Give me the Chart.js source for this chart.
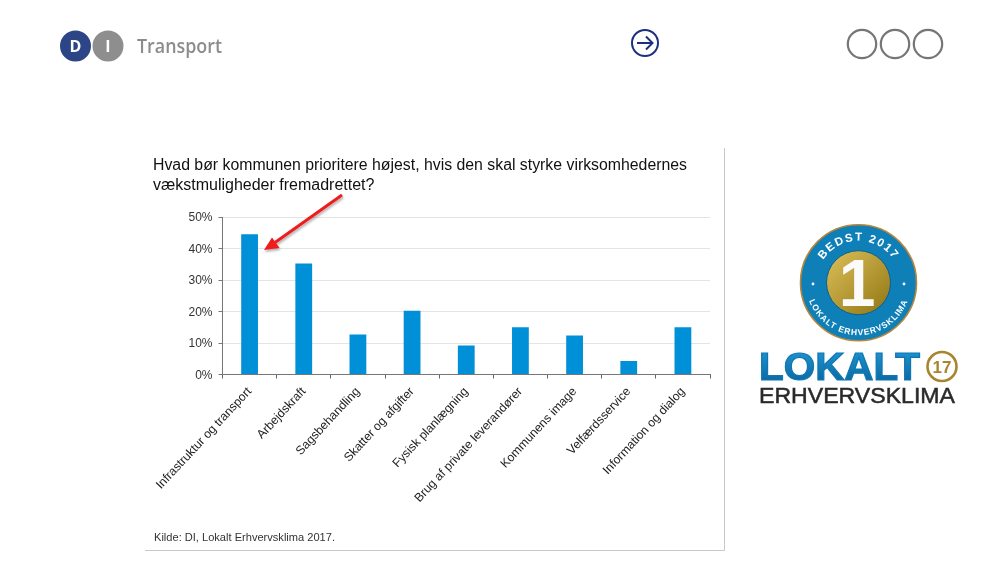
<!DOCTYPE html>
<html>
<head>
<meta charset="utf-8">
<title>Transport</title>
<script src="https://cdn.jsdelivr.net/npm/chart.js@4"></script>
<style>
  html, body { margin: 0; padding: 0; background: #fff; }
  #page { position: relative; width: 1000px; height: 563px; overflow: hidden; }
  #page canvas, #page svg { position: absolute; left: 0; top: 0; }
</style>
</head>
<body>
<div id="page">
  <canvas id="chart" width="1000" height="563"></canvas>
  <svg width="1000" height="563" viewBox="0 0 1000 563">
    <defs>
      <linearGradient id="gold" x1="0" y1="0" x2="1" y2="1">
        <stop offset="0" stop-color="#dcc15a"/>
        <stop offset="1" stop-color="#8f7412"/>
      </linearGradient>
      <linearGradient id="lokalt" x1="0" y1="0" x2="0" y2="1">
        <stop offset="0" stop-color="#1f9ad6"/>
        <stop offset="1" stop-color="#0a5f97"/>
      </linearGradient>
      <filter id="shadow" x="-20%" y="-20%" width="140%" height="140%">
        <feDropShadow dx="1" dy="2" stdDeviation="1.2" flood-color="#000" flood-opacity="0.3"/>
      </filter>
      <path id="ringTop" d="M 816.5 282.7 A 42 42 0 0 1 900.5 282.7"/>
      <path id="ringBottom" d="M 806 282.7 A 52.5 52.5 0 0 0 911 282.7"/>
    </defs>

    <!-- header -->
    <circle cx="75.5" cy="46" r="15.5" fill="#2b4586"/>
    <circle cx="108" cy="46" r="15.5" fill="#8e8e8e"/>
    <text x="75.5" y="52" text-anchor="middle" font-family="Open Sans" font-weight="700" font-size="16" fill="#fff">D</text>
    <text x="108" y="52" text-anchor="middle" font-family="Open Sans" font-weight="700" font-size="16" fill="#fff">I</text>
    <text x="137" y="53" font-family="Open Sans" font-weight="600" font-size="19.5" fill="#8c8c8c" textLength="85" lengthAdjust="spacingAndGlyphs">Transport</text>

    <g fill="none" stroke="#1c2f80" stroke-width="2">
      <circle cx="645" cy="43" r="13"/>
      <path d="M 637 43 H 652 M 646 36.5 L 652.5 43 L 646 49.5"/>
    </g>
    <g fill="none" stroke="#767676" stroke-width="2.2">
      <circle cx="862" cy="44" r="14.2"/>
      <circle cx="895" cy="44" r="14.2"/>
      <circle cx="928" cy="44" r="14.2"/>
    </g>

    <!-- chart panel -->
    <path d="M 724.5 148 V 550.5 H 145" fill="none" stroke="#c8c8c8" stroke-width="1"/>
    <g font-family="Liberation Sans" font-size="16" fill="#111">
      <text x="153" y="170" textLength="534" lengthAdjust="spacingAndGlyphs">Hvad bør kommunen prioritere højest, hvis den skal styrke virksomhedernes</text>
      <text x="153" y="190">vækstmuligheder fremadrettet?</text>
    </g>
    <text x="154" y="541" font-family="Liberation Sans" font-size="11" fill="#333" textLength="181" lengthAdjust="spacingAndGlyphs">Kilde: DI, Lokalt Erhvervsklima 2017.</text>

    <!-- red arrow -->
    <g filter="url(#shadow)">
      <path d="M 342 195 L 275 242.5" stroke="#ee1c1c" stroke-width="3" fill="none"/>
      <path d="M 264 250 L 272 237.5 L 279.5 248 Z" fill="#ee1c1c"/>
    </g>

    <!-- logo -->
    <circle cx="858.5" cy="282.7" r="58" fill="#0f7fb8" stroke="#b9853a" stroke-width="1.6"/>
    <circle cx="858.5" cy="282.7" r="32" fill="url(#gold)" stroke="#0b5f8d" stroke-width="1"/>
    <text font-family="Liberation Sans" font-weight="700" font-size="11.5" fill="#fff" letter-spacing="1.6">
      <textPath href="#ringTop" startOffset="50%" text-anchor="middle">BEDST 2017</textPath>
    </text>
    <text font-family="Liberation Sans" font-weight="700" font-size="8.5" fill="#fff" letter-spacing="0.9">
      <textPath href="#ringBottom" startOffset="50%" text-anchor="middle">LOKALT ERHVERVSKLIMA</textPath>
    </text>
    <circle cx="813" cy="284" r="1.4" fill="#fff"/>
    <circle cx="904" cy="284" r="1.4" fill="#fff"/>
    <text x="857" y="306" text-anchor="middle" font-family="Liberation Sans" font-weight="700" font-size="66" fill="#fbfbfb">1</text>

    <text x="759" y="380" font-family="Liberation Sans" font-weight="700" font-size="38" fill="url(#lokalt)" stroke="#0f78b4" stroke-width="1.2" textLength="161" lengthAdjust="spacingAndGlyphs">LOKALT</text>
    <circle cx="942" cy="366.5" r="14.5" fill="none" stroke="#a9842f" stroke-width="2.6"/>
    <text x="942" y="373" text-anchor="middle" font-family="Liberation Sans" font-weight="700" font-size="17" fill="#a9842f">17</text>
    <text x="759" y="403" font-family="Liberation Sans" font-size="22" fill="#2a2a2a" stroke="#2a2a2a" stroke-width="0.5" textLength="196" lengthAdjust="spacingAndGlyphs">ERHVERVSKLIMA</text>
  </svg>
</div>

<script>
const categories = [
  'Infrastruktur og transport',
  'Arbejdskraft',
  'Sagsbehandling',
  'Skatter og afgifter',
  'Fysisk planlægning',
  'Brug af private leverandører',
  'Kommunens image',
  'Velfærdsservice',
  'Information og dialog'
];
const shares = [44.5, 35.2, 12.7, 20.2, 9.2, 15, 12.4, 4.3, 15];
const yTicks = [0, 10, 20, 30, 40, 50];

new Chart(document.getElementById('chart'), {
  type: 'bar',
  data: {
    labels: categories,
    datasets: [{
      data: shares,
      backgroundColor: '#0090d8',
      barPercentage: 0.31,
      categoryPercentage: 1
    }]
  },
  options: {
    responsive: false,
    animation: false,
    devicePixelRatio: 1,
    layout: { padding: { top: 217, right: 290, left: 0, bottom: 0 } },
    plugins: { legend: { display: false }, tooltip: { enabled: false } },
    scales: {
      x: {
        afterFit: scale => { scale.height = 188.5; },
        grid: {
          offset: true,
          drawOnChartArea: false,
          tickColor: '#666',
          tickLength: 4
        },
        border: { color: '#777' },
        ticks: {
          autoSkip: false,
          minRotation: 47,
          maxRotation: 47,
          padding: 6,
          color: '#222',
          font: { family: 'Liberation Sans', size: 12.2 }
        }
      },
      y: {
        min: 0,
        max: 50,
        afterFit: scale => { scale.width = 222.5; },
        afterBuildTicks: scale => { scale.ticks = yTicks.map(value => ({ value })); },
        grid: {
          color: '#e4e4e4',
          tickColor: '#777',
          tickLength: 4
        },
        border: { color: '#777' },
        ticks: {
          padding: 6,
          labelOffset: 1,
          color: '#333',
          font: { family: 'Liberation Sans', size: 12 },
          callback: value => value + '%'
        }
      }
    }
  }
});
</script>
</body>
</html>
